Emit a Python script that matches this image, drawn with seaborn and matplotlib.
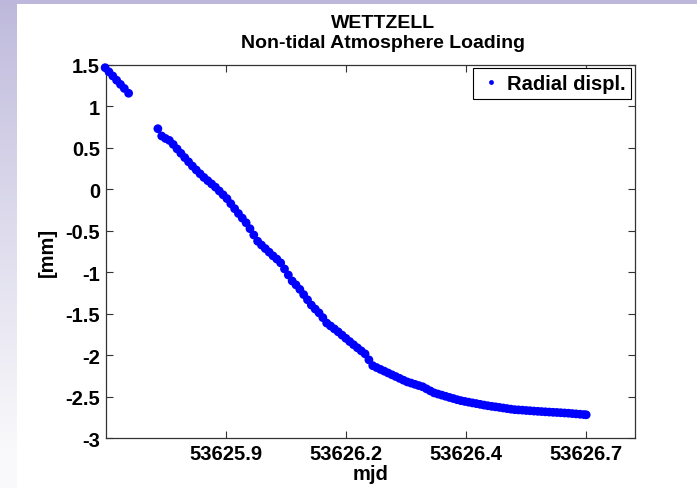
import numpy as np
import matplotlib
matplotlib.use("Agg")
import matplotlib.pyplot as plt
import seaborn as sns
import pandas as pd

# ---- data ----
mjd = [
    53625.648, 53625.656, 53625.664, 53625.672, 53625.680, 53625.688, 53625.697,
    53625.758, 53625.766, 53625.774, 53625.782, 53625.790, 53625.798, 53625.806, 53625.814,
    53625.822, 53625.830, 53625.838, 53625.846, 53625.854, 53625.862, 53625.870, 53625.878,
    53625.886, 53625.894, 53625.902, 53625.910, 53625.918, 53625.926, 53625.934, 53625.942,
    53625.950, 53625.958, 53625.966, 53625.974, 53625.982, 53625.990, 53625.998, 53626.006,
    53626.014, 53626.022, 53626.030, 53626.038, 53626.046, 53626.054, 53626.062, 53626.070,
    53626.078, 53626.086, 53626.094, 53626.102, 53626.110, 53626.118, 53626.126, 53626.134,
    53626.142, 53626.150, 53626.158, 53626.166, 53626.174, 53626.182, 53626.190, 53626.198,
    53626.206, 53626.214, 53626.222, 53626.230, 53626.238, 53626.246, 53626.254, 53626.262,
    53626.270, 53626.278, 53626.286, 53626.294, 53626.302, 53626.310, 53626.318, 53626.326,
    53626.334, 53626.342, 53626.350, 53626.358, 53626.366, 53626.374, 53626.382, 53626.390,
    53626.398, 53626.406, 53626.414, 53626.422, 53626.430, 53626.438, 53626.446, 53626.454,
    53626.462, 53626.470, 53626.478, 53626.486, 53626.494, 53626.502, 53626.510, 53626.518,
    53626.526, 53626.534, 53626.542, 53626.550, 53626.558, 53626.566, 53626.574, 53626.582,
    53626.590, 53626.598, 53626.606, 53626.614, 53626.622, 53626.630, 53626.638, 53626.646,
    53626.651,
]
radial = [
    1.464, 1.414, 1.364, 1.313, 1.263, 1.214, 1.156,
    0.729, 0.641, 0.611, 0.588, 0.540, 0.486, 0.433, 0.381,
    0.330, 0.279, 0.232, 0.186, 0.142, 0.103, 0.064, 0.025,
    -0.021, -0.067, -0.113, -0.174, -0.234, -0.292, -0.348, -0.404,
    -0.475, -0.551, -0.626, -0.672, -0.715, -0.758, -0.802, -0.841,
    -0.887, -0.960, -1.033, -1.105, -1.152, -1.206, -1.269, -1.332,
    -1.395, -1.443, -1.489, -1.547, -1.612, -1.647, -1.682, -1.718,
    -1.757, -1.796, -1.835, -1.873, -1.910, -1.947, -1.983, -2.055,
    -2.125, -2.148, -2.170, -2.191, -2.213, -2.235, -2.256, -2.278,
    -2.300, -2.321, -2.335, -2.350, -2.365, -2.379, -2.404, -2.429,
    -2.453, -2.467, -2.480, -2.494, -2.508, -2.521, -2.535, -2.547,
    -2.556, -2.565, -2.574, -2.582, -2.591, -2.600, -2.608, -2.615,
    -2.621, -2.628, -2.635, -2.642, -2.649, -2.655, -2.658, -2.661,
    -2.665, -2.668, -2.672, -2.675, -2.678, -2.681, -2.684, -2.687,
    -2.689, -2.692, -2.695, -2.698, -2.702, -2.706, -2.710, -2.714,
    -2.717,
]
series_label = "Radial displ."
x_ticks = [53625.9, 53626.15, 53626.4, 53626.65]
x_tick_labels = ["53625.9", "53626.2", "53626.4", "53626.7"]
y_ticks = [1.5, 1, 0.5, 0, -0.5, -1, -1.5, -2, -2.5, -3]
y_tick_labels = ["1.5", "1", "0.5", "0", "-0.5", "-1", "-1.5", "-2", "-2.5", "-3"]
title_lines = ["WETTZELL", "Non-tidal Atmosphere Loading"]

df = pd.DataFrame({"mjd": mjd, "radial": radial, "series": series_label})

plt.rcParams["font.family"] = ["Liberation Sans", "DejaVu Sans"]
plt.rcParams["font.weight"] = "bold"

W, H = 697, 489
fig = plt.figure(figsize=(W / 100, H / 100), dpi=100, facecolor="white")

# slide-like background: lavender top strip and fading left strip
bg = fig.add_axes([0, 0, 1, 1], zorder=-10)
bg.axis("off")
img = np.ones((H, W, 3))
top_col = np.array([189, 184, 219]) / 255.0
bot_col = np.array([249, 249, 251]) / 255.0
frac = np.linspace(0, 1, H)[:, None]
frac = np.clip(frac / 0.92, 0, 1) ** 0.9
grad = top_col[None, :] * (1 - frac) + bot_col[None, :] * frac
img[:, :17, :] = grad[:, None, :]
img[:5, :, :] = top_col
bg.imshow(img, aspect="auto", extent=[0, 1, 0, 1], interpolation="nearest")
bg.set_xlim(0, 1)
bg.set_ylim(0, 1)

left, right, top, bottom = 105.5, 635, 65.7, 439.3
ax = fig.add_axes([left / W, 1 - bottom / H, (right - left) / W, (bottom - top) / H])
ax.set_facecolor("white")

sns.scatterplot(data=df, x="mjd", y="radial", hue="series", palette=["#0000FF"],
                s=40, linewidth=0, edgecolor="none", ax=ax, clip_on=False, zorder=3)

ax.set_xlim(53625.6488, 53626.7528)
ax.set_ylim(-3, 1.5)
ax.set_xticks(x_ticks)
ax.set_xticklabels(x_tick_labels)
ax.set_yticks(y_ticks)
ax.set_yticklabels(y_tick_labels)
ax.tick_params(direction="in", top=True, right=True, length=5, width=0.8,
               labelsize=14.5, colors="#333333", labelcolor="black", pad=4)
for lab in ax.get_xticklabels() + ax.get_yticklabels():
    lab.set_fontweight("bold")
for sp in ax.spines.values():
    sp.set_color("#333333")
    sp.set_linewidth(0.9)

ax.set_xlabel("mjd", fontsize=14.5, fontweight="bold", labelpad=1)
ax.set_ylabel("[mm]", fontsize=14.5, fontweight="bold", labelpad=6)

fig.text(383 / W, 1 - 28 / H, title_lines[0], ha="center", va="baseline",
         fontsize=14, fontweight="bold")
fig.text(383 / W, 1 - 47.7 / H, title_lines[1], ha="center", va="baseline",
         fontsize=14, fontweight="bold")

leg = ax.legend(loc="upper right", frameon=True, fancybox=False, framealpha=1,
                edgecolor="black", fontsize=14.5, markerscale=0.55,
                borderaxespad=0.18, handletextpad=0.2, borderpad=0.28,
                handlelength=1.2, title=None)
leg.get_frame().set_linewidth(0.8)
for t in leg.get_texts():
    t.set_fontweight("bold")

fig.savefig("out.png", dpi=100, facecolor=fig.get_facecolor())
